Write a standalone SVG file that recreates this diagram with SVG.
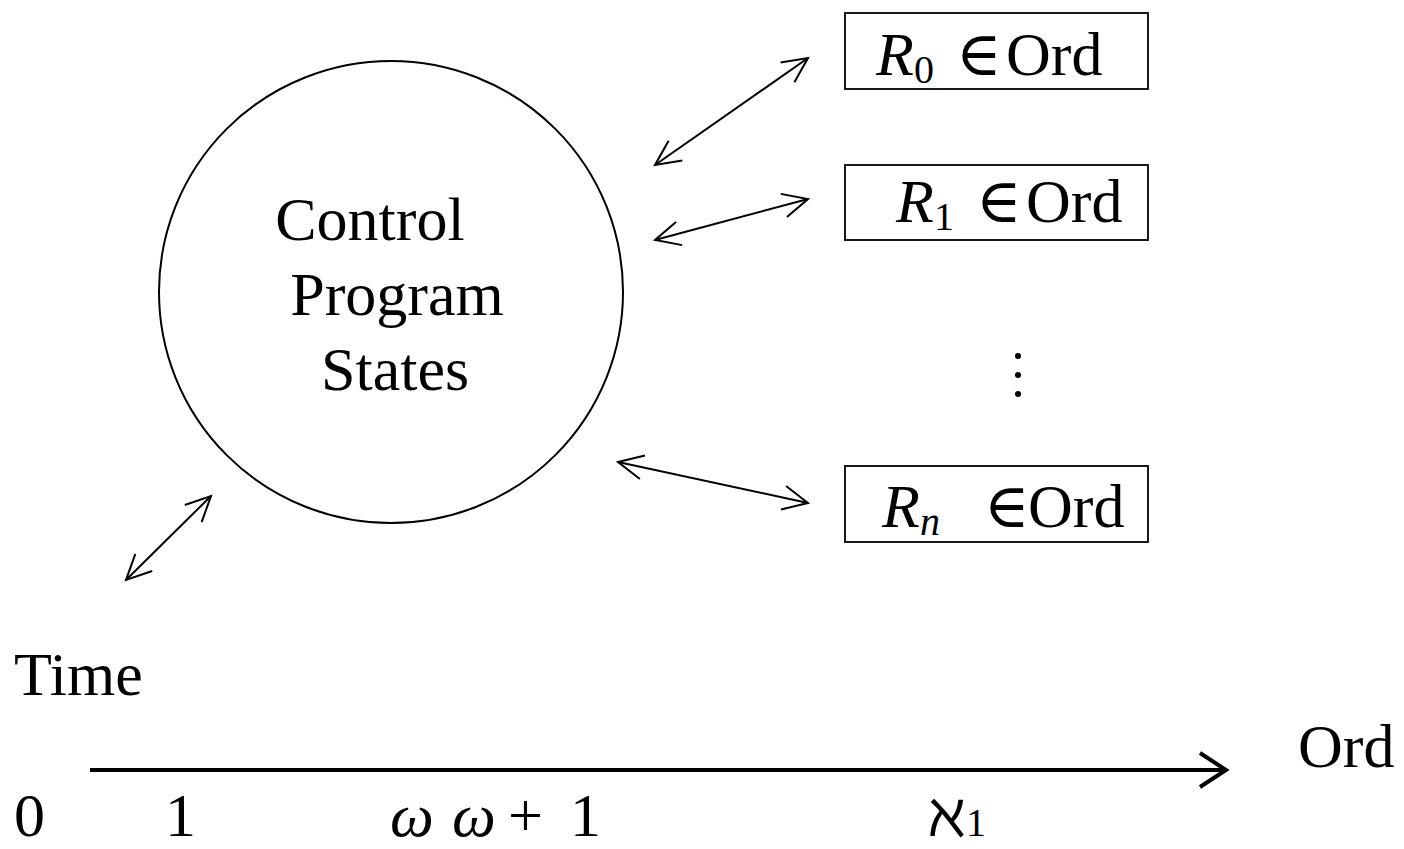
<svg xmlns="http://www.w3.org/2000/svg" width="1404" height="849" viewBox="0 0 1404 849">
<style>
text{font-family:"Liberation Serif","DejaVu Serif",serif;font-size:62px;fill:#000}
.it{font-style:italic}
.sub{font-size:40px}
.thin{stroke:#000;stroke-width:2;fill:none}
.box{fill:#fff;stroke:#000;stroke-width:1.8}
</style>
<defs>
<marker id="ah" viewBox="-30 -16 34 32" refX="0" refY="0" markerWidth="34" markerHeight="32" markerUnits="userSpaceOnUse" orient="auto-start-reverse">
<path d="M-25,-12 L0,0 L-25,12" fill="none" stroke="#000" stroke-width="2"/>
</marker>
<marker id="ahb" viewBox="-30 -20 34 40" refX="0" refY="0" markerWidth="34" markerHeight="40" markerUnits="userSpaceOnUse" orient="auto">
<path d="M-26,-17 L0,0 L-26,17" fill="none" stroke="#000" stroke-width="4"/>
</marker>
</defs>
<g id="program">
<ellipse cx="391" cy="292" rx="232" ry="231" class="thin" stroke-width="1.6"/>
<text x="370" y="240" text-anchor="middle">Control</text>
<text x="397" y="315" text-anchor="middle">Program</text>
<text x="395" y="390" text-anchor="middle">States</text>
</g>
<g id="r0">
<rect x="845" y="13" width="303" height="76" class="box"/>
<text x="876" y="75"><tspan class="it">R</tspan><tspan class="sub" dy="8">0</tspan><tspan dy="-8" x="956">∈</tspan><tspan x="1006">Ord</tspan></text>
</g>
<g id="r1">
<rect x="845" y="165" width="303" height="75" class="box"/>
<text x="896" y="222"><tspan class="it">R</tspan><tspan class="sub" dy="8">1</tspan><tspan dy="-8" x="976">∈</tspan><tspan x="1026">Ord</tspan></text>
</g>
<g id="dots">
<circle cx="1018" cy="356" r="3"/>
<circle cx="1018" cy="375" r="3"/>
<circle cx="1018" cy="394" r="3"/>
</g>
<g id="rn">
<rect x="845" y="466" width="303" height="76" class="box"/>
<text x="882" y="527"><tspan class="it">R</tspan><tspan class="sub it" dy="8">n</tspan><tspan dy="-8" x="984">∈</tspan><tspan x="1028">Ord</tspan></text>
</g>
<g id="time">
<text x="14" y="695">Time</text>
</g>
<g id="axis-labels">
<text x="1298" y="767">Ord</text>
<text x="14" y="836">0</text>
<text x="165" y="836">1</text>
<text x="390" y="836" class="it">ω</text>
<text x="452" y="836"><tspan class="it">ω</tspan><tspan x="508">+</tspan><tspan x="570">1</tspan></text>
<text x="928" y="836">ℵ<tspan class="sub">1</tspan></text>
</g>
<g id="connectors">
<line x1="655" y1="165" x2="808" y2="58" class="thin" marker-start="url(#ah)" marker-end="url(#ah)"/>
<line x1="655" y1="240" x2="808" y2="199" class="thin" marker-start="url(#ah)" marker-end="url(#ah)"/>
<line x1="618" y1="462" x2="808" y2="503" class="thin" marker-start="url(#ah)" marker-end="url(#ah)"/>
<line x1="126" y1="580" x2="211" y2="496" class="thin" marker-start="url(#ah)" marker-end="url(#ah)"/>
<line x1="90" y1="770" x2="1226" y2="770" stroke="#000" stroke-width="4" marker-end="url(#ahb)"/>
</g>
</svg>
